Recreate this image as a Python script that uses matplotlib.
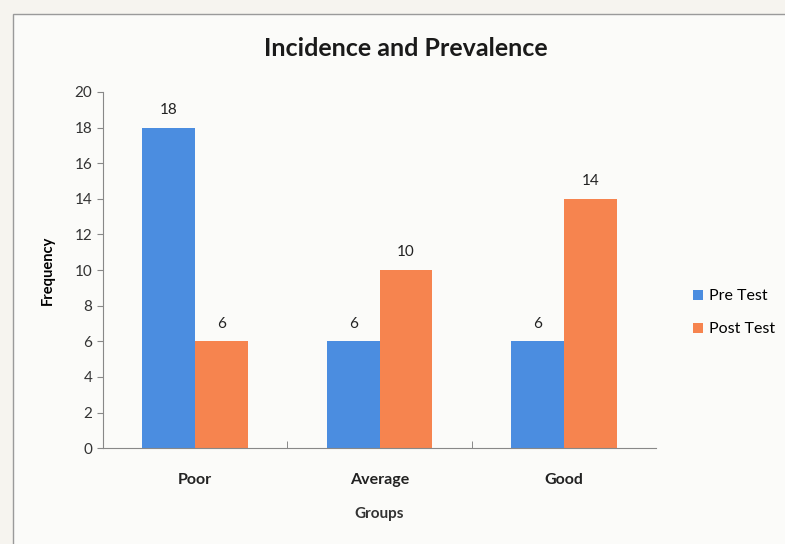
import numpy as np
import matplotlib
matplotlib.use('Agg')
import matplotlib.pyplot as plt
from matplotlib.patches import Rectangle

plt.rcParams['font.family'] = ['Lato', 'DejaVu Sans']

groups = ['Poor', 'Average', 'Good']
pre_test = [18, 6, 6]
post_test = [6, 10, 14]
yticks = list(range(0, 21, 2))

blue = '#4b8de0'
orange = '#f6844f'

fig = plt.figure(figsize=(7.85, 5.44), dpi=100)
fig.patch.set_facecolor('#f6f4ef')
# chart frame, kept behind the axes
fig.patches.append(Rectangle((0.016, -0.01), 1.0, 0.985, transform=fig.transFigure,
                             facecolor='#fbfbf9', edgecolor='#9a9a9a', linewidth=1.0,
                             zorder=-10))

ax = fig.add_axes([0.131, 0.176, 0.705, 0.655])
ax.set_facecolor('none')

x = np.arange(len(groups))
w = 0.285
b1 = ax.bar(x - w / 2, pre_test, w, color=blue, label='Pre Test')
b2 = ax.bar(x + w / 2, post_test, w, color=orange, label='Post Test')

for bars, vals in ((b1, pre_test), (b2, post_test)):
    for r, v in zip(bars, vals):
        ax.text(r.get_x() + r.get_width() / 2, v + 0.6, str(v),
                ha='center', va='bottom', fontsize=11, color='#222222')

ax.set_xlim(-0.5, 2.5)
ax.set_ylim(0, 20)
ax.set_yticks(yticks)
ax.set_xticks(x)
ax.set_xticklabels(groups, fontsize=11.5, fontweight='bold', color='#222222')
ax.set_xticks([0.5, 1.5], minor=True)
ax.tick_params(axis='x', which='major', length=0, pad=18)
ax.tick_params(axis='x', which='minor', length=5, direction='in', color='#777777')
ax.tick_params(axis='y', labelsize=11, labelcolor='#333333', length=4, color='#888888')
for s in ('top', 'right'):
    ax.spines[s].set_visible(False)
ax.spines['left'].set_color('#888888')
ax.spines['bottom'].set_color('#888888')

ax.set_ylabel('Frequency', fontsize=10.5, fontweight='bold', labelpad=14)
ax.set_xlabel('Groups', fontsize=11, fontweight='bold', color='#333333', labelpad=14)

fig.text(0.517, 0.91, 'Incidence and Prevalence', ha='center', va='center',
         fontsize=18, fontweight='bold', color='#1a1a1a')

fig.legend(handles=[b1, b2], loc='center left', bbox_to_anchor=(0.865, 0.425),
           frameon=False, fontsize=11.5, handlelength=0.6, handleheight=0.6,
           handletextpad=0.4, labelspacing=1.2)

fig.savefig('out.png', dpi=100, facecolor=fig.get_facecolor())
